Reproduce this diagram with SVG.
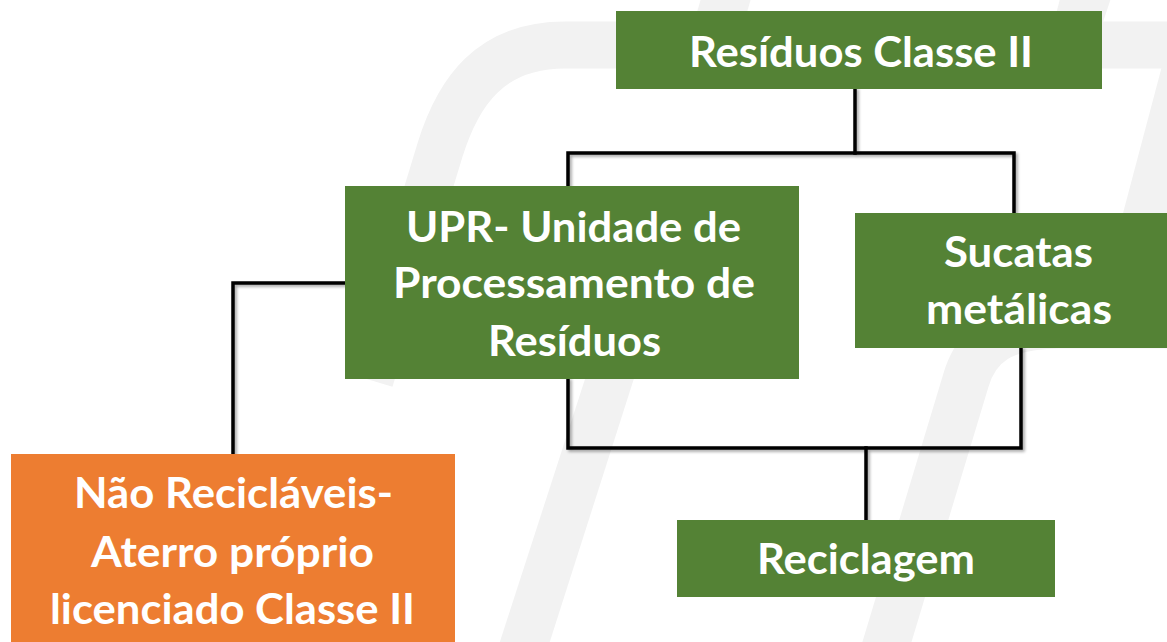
<svg xmlns="http://www.w3.org/2000/svg" width="1167" height="642" viewBox="0 0 1167 642">
  <defs>
    <style>
      .wm { fill: none; stroke: #f2f2f2; stroke-width: 47; }
      .wmf { fill: #f2f2f2; }
      .green { fill: #548235; }
      .orange { fill: #ED7D31; }
      .lbl { fill: #ffffff; font-family: Lato, "Open Sans", "Liberation Sans", sans-serif; font-weight: 700; font-size: 42px; text-anchor: middle; }
      .conn { fill: none; stroke: #000000; stroke-width: 3.5; stroke-linejoin: miter; stroke-linecap: square; }
    </style>
    <filter id="shadow" x="-10%" y="-10%" width="120%" height="120%">
      <feDropShadow dx="2" dy="2" stdDeviation="1.5" flood-color="#000000" flood-opacity="0.35"/>
    </filter>
  </defs>
  <rect width="1167" height="642" fill="#ffffff"/>

  <!-- faint background watermark -->
  <g id="watermark">
    <path class="wm" d="M 370,380 L 440,150 C 458,92 490,45 565,45 L 1190,45"/>
    <path class="wm" d="M 880,665 L 966,380 C 976,345 1002,325 1060,325 L 1200,325"/>
    <polygon class="wmf" points="1162,66 1230,66 1180,300 1100,300"/>
    <polygon class="wmf" points="643,200 691,200 544,660 494,660"/>
    <polygon class="wmf" points="702,-5 752,-5 743,26 693,26"/>
    <polygon class="wmf" points="1061,-5 1112,-5 1103,22 1052,30"/>
  </g>

  <g id="connectors" filter="url(#shadow)">
    <path class="conn" d="M 855,89 V 153"/>
    <path class="conn" d="M 568,186 V 153 H 1014 V 213"/>
    <path class="conn" d="M 345,283 H 233 V 454"/>
    <path class="conn" d="M 568,379 V 448 H 1021 V 348"/>
    <path class="conn" d="M 866,448 V 520"/>
  </g>

  <g id="node-residuos">
    <rect class="green" x="616" y="11" width="486" height="78"/>
    <text class="lbl" x="861" y="67" textLength="344" lengthAdjust="spacingAndGlyphs">Resíduos Classe II</text>
  </g>

  <g id="node-upr">
    <rect class="green" x="345" y="186" width="454" height="193"/>
    <text class="lbl" x="573.5" y="242" textLength="335" lengthAdjust="spacingAndGlyphs">UPR- Unidade de</text>
    <text class="lbl" x="574" y="298" textLength="362" lengthAdjust="spacingAndGlyphs">Processamento de</text>
    <text class="lbl" x="574.5" y="356" textLength="173" lengthAdjust="spacingAndGlyphs">Resíduos</text>
  </g>

  <g id="node-sucatas">
    <rect class="green" x="855" y="213" width="312" height="135"/>
    <text class="lbl" x="1018.5" y="267" textLength="149" lengthAdjust="spacingAndGlyphs">Sucatas</text>
    <text class="lbl" x="1019" y="324" textLength="186" lengthAdjust="spacingAndGlyphs">metálicas</text>
  </g>

  <g id="node-nao-reciclaveis">
    <rect class="orange" x="11" y="454" width="444" height="188"/>
    <text class="lbl" x="233.5" y="508" textLength="319" lengthAdjust="spacingAndGlyphs">Não Recicláveis-</text>
    <text class="lbl" x="232.5" y="567" textLength="283" lengthAdjust="spacingAndGlyphs">Aterro próprio</text>
    <text class="lbl" x="232.5" y="624" textLength="365" lengthAdjust="spacingAndGlyphs">licenciado Classe II</text>
  </g>

  <g id="node-reciclagem">
    <rect class="green" x="677" y="520" width="378" height="77"/>
    <text class="lbl" x="866" y="574" textLength="218" lengthAdjust="spacingAndGlyphs">Reciclagem</text>
  </g>
</svg>
